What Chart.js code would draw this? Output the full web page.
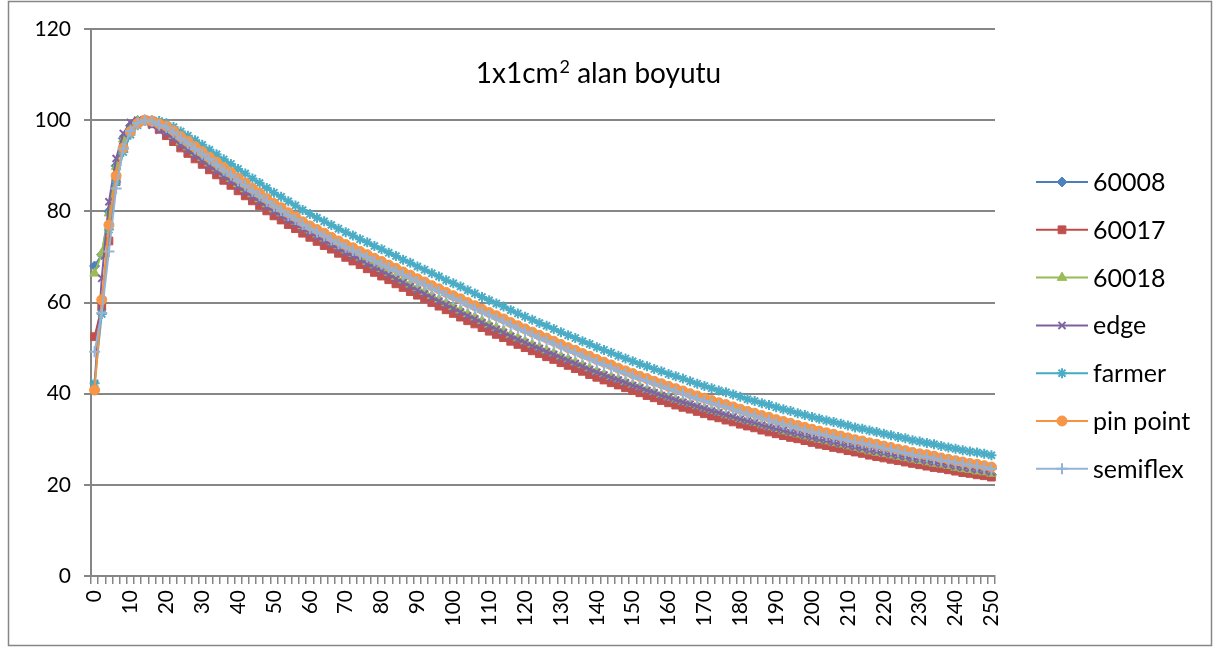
<!DOCTYPE html>
<html>
<head>
<meta charset="utf-8">
<script src="https://cdn.jsdelivr.net/npm/chart.js@4/dist/chart.umd.min.js"></script>
<style>
  html, body { margin: 0; padding: 0; background: #fff; }
  #wrap { width: 1220px; height: 653px; }
</style>
</head>
<body>
<div id="wrap"><canvas id="c" width="1220" height="653"></canvas></div>
<script>
// Depth (mm), one category every 2 mm
const depths = [
  0,2,4,6,8,10,12,14,16,18,20,22,24,26,28,30,32,34,36,38,
  40,42,44,46,48,50,52,54,56,58,60,62,64,66,68,70,72,74,76,78,
  80,82,84,86,88,90,92,94,96,98,100,102,104,106,108,110,112,114,116,118,
  120,122,124,126,128,130,132,134,136,138,140,142,144,146,148,150,152,154,156,158,
  160,162,164,166,168,170,172,174,176,178,180,182,184,186,188,190,192,194,196,198,
  200,202,204,206,208,210,212,214,216,218,220,222,224,226,228,230,232,234,236,238,
  240,242,244,246,248,250
];
// Depths that carry a visible label
const labelledDepths = [0,10,20,30,40,50,60,70,80,90,100,110,120,130,140,150,160,170,180,190,200,210,220,230,240,250];
const yTicks = [0, 20, 40, 60, 80, 100, 120];

const seriesNames = ['60008', '60017', '60018', 'edge', 'farmer', 'pin point', 'semiflex'];

const pdd60008 = [
  68.0, 70.5, 80.0, 90.0, 96.0, 98.8, 99.9, 100.0, 99.4, 98.4,
  97.4, 96.1, 94.7, 93.6, 92.4, 91.2, 90.0, 88.9, 87.7, 86.6,
  85.4, 84.3, 83.2, 82.1, 81.0, 80.0, 79.1, 78.1, 77.2, 76.2,
  75.3, 74.4, 73.5, 72.7, 71.8, 70.9, 70.1, 69.3, 68.4, 67.6,
  66.8, 66.0, 65.1, 64.3, 63.4, 62.6, 61.8, 60.9, 60.1, 59.3,
  58.5, 57.7, 56.9, 56.2, 55.4, 54.6, 53.9, 53.2, 52.4, 51.7,
  51.0, 50.3, 49.7, 49.0, 48.4, 47.7, 47.1, 46.4, 45.7, 45.0,
  44.4, 43.8, 43.2, 42.7, 42.1, 41.5, 41.0, 40.4, 39.9, 39.3,
  38.8, 38.3, 37.8, 37.4, 36.9, 36.3, 35.8, 35.4, 34.9, 34.5,
  34.0, 33.6, 33.2, 32.7, 32.3, 31.9, 31.5, 31.1, 30.8, 30.4,
  30.0, 29.5, 29.2, 28.8, 28.5, 28.1, 27.8, 27.5, 27.1, 26.8,
  26.5, 26.2, 25.9, 25.6, 25.3, 25.0, 24.7, 24.4, 24.1, 23.8,
  23.5, 23.2, 23.0, 22.7, 22.5, 22.2
];
const pdd60017 = [
  52.5, 59.0, 73.5, 86.5, 94.0, 97.8, 99.6, 100.0, 99.2, 98.0,
  96.6, 95.3, 93.9, 92.7, 91.5, 90.3, 89.1, 88.0, 86.8, 85.7,
  84.5, 83.4, 82.3, 81.2, 80.1, 79.0, 78.1, 77.1, 76.2, 75.2,
  74.3, 73.4, 72.5, 71.7, 70.8, 69.9, 69.1, 68.3, 67.4, 66.6,
  65.8, 65.0, 64.1, 63.3, 62.4, 61.6, 60.8, 60.0, 59.2, 58.4,
  57.6, 56.8, 56.0, 55.3, 54.5, 53.7, 53.0, 52.3, 51.5, 50.8,
  50.1, 49.4, 48.8, 48.1, 47.5, 46.8, 46.2, 45.5, 44.9, 44.2,
  43.6, 43.0, 42.4, 41.9, 41.3, 40.7, 40.2, 39.6, 39.1, 38.5,
  38.0, 37.5, 37.0, 36.6, 36.1, 35.6, 35.1, 34.7, 34.2, 33.8,
  33.3, 32.9, 32.5, 32.0, 31.6, 31.2, 30.8, 30.4, 30.1, 29.7,
  29.3, 28.9, 28.6, 28.2, 27.9, 27.5, 27.2, 26.9, 26.5, 26.2,
  25.9, 25.6, 25.3, 25.0, 24.7, 24.4, 24.1, 23.8, 23.6, 23.3,
  23.0, 22.7, 22.5, 22.2, 22.0, 21.7
];
const pdd60018 = [
  66.4, 70.8, 79.6, 89.8, 95.8, 98.6, 99.8, 100.0, 99.5, 98.8,
  97.8, 96.6, 95.2, 94.1, 92.9, 91.8, 90.6, 89.5, 88.3, 87.2,
  86.0, 84.9, 83.8, 82.7, 81.6, 80.5, 79.6, 78.7, 77.8, 76.8,
  75.9, 75.0, 74.1, 73.3, 72.4, 71.5, 70.7, 69.9, 69.0, 68.2,
  67.4, 66.6, 65.7, 64.9, 64.0, 63.2, 62.4, 61.5, 60.7, 59.9,
  59.1, 58.3, 57.5, 56.8, 56.0, 55.2, 54.5, 53.8, 52.9, 52.2,
  51.5, 50.8, 50.2, 49.5, 48.9, 48.2, 47.6, 46.9, 46.3, 45.6,
  44.9, 44.3, 43.7, 43.2, 42.6, 42.0, 41.5, 40.9, 40.4, 39.8,
  39.2, 38.7, 38.2, 37.8, 37.3, 36.8, 36.3, 35.9, 35.3, 34.9,
  34.4, 34.0, 33.6, 33.1, 32.7, 32.3, 31.8, 31.4, 31.1, 30.7,
  30.3, 29.9, 29.6, 29.2, 28.9, 28.5, 28.2, 27.8, 27.4, 27.1,
  26.8, 26.5, 26.2, 25.9, 25.6, 25.3, 25.0, 24.7, 24.5, 24.2,
  23.8, 23.5, 23.3, 23.0, 22.8, 22.5
];
const pddEdge = [
  42.0, 65.3, 82.1, 91.6, 97.1, 99.5, 100.0, 99.7, 98.9, 97.8,
  97.1, 95.9, 94.5, 93.4, 92.2, 91.1, 89.9, 88.8, 87.6, 86.6,
  85.4, 84.3, 83.2, 82.1, 81.0, 79.9, 79.0, 78.0, 77.2, 76.2,
  75.3, 74.4, 73.5, 72.7, 71.8, 70.9, 70.2, 69.4, 68.5, 67.7,
  66.9, 66.1, 65.2, 64.4, 63.5, 62.7, 61.9, 61.1, 60.3, 59.5,
  58.7, 57.9, 57.1, 56.4, 55.6, 54.8, 54.1, 53.4, 52.6, 51.9,
  51.2, 50.5, 49.9, 49.2, 48.6, 47.9, 47.3, 46.6, 46.0, 45.3,
  44.7, 44.1, 43.5, 43.0, 42.4, 41.8, 41.3, 40.7, 40.2, 39.6,
  39.1, 38.6, 38.1, 37.7, 37.2, 36.7, 36.2, 35.8, 35.3, 34.9,
  34.4, 34.0, 33.6, 33.1, 32.7, 32.3, 31.9, 31.5, 31.2, 30.8,
  30.4, 30.0, 29.7, 29.3, 29.0, 28.6, 28.3, 28.0, 27.6, 27.3,
  27.0, 26.7, 26.4, 26.1, 25.8, 25.5, 25.2, 24.9, 24.7, 24.4,
  24.1, 23.8, 23.6, 23.3, 23.1, 22.8
];
const pddFarmer = [
  42.3, 57.5, 76.0, 86.5, 93.0, 96.8, 98.9, 99.8, 100.0, 99.8,
  99.3, 98.5, 97.5, 96.6, 95.6, 94.6, 93.5, 92.5, 91.4, 90.4,
  89.3, 88.3, 87.2, 86.2, 85.1, 84.1, 83.2, 82.2, 81.3, 80.3,
  79.4, 78.6, 77.8, 77.0, 76.2, 75.4, 74.7, 73.9, 73.2, 72.4,
  71.7, 70.9, 70.2, 69.4, 68.7, 67.9, 67.2, 66.4, 65.7, 64.9,
  64.2, 63.5, 62.7, 62.0, 61.2, 60.5, 59.8, 59.1, 58.3, 57.6,
  56.9, 56.2, 55.5, 54.9, 54.2, 53.5, 52.8, 52.2, 51.5, 50.9,
  50.2, 49.6, 49.0, 48.3, 47.7, 47.1, 46.5, 46.0, 45.4, 44.9,
  44.3, 43.8, 43.3, 42.7, 42.2, 41.7, 41.2, 40.7, 40.3, 39.8,
  39.3, 38.8, 38.4, 37.9, 37.5, 37.0, 36.6, 36.2, 35.7, 35.3,
  34.9, 34.5, 34.1, 33.8, 33.4, 33.0, 32.6, 32.3, 31.9, 31.6,
  31.2, 30.9, 30.5, 30.2, 29.8, 29.5, 29.2, 28.9, 28.5, 28.2,
  27.9, 27.6, 27.3, 27.1, 26.8, 26.5
];
const pddPinPoint = [
  40.8, 60.6, 77.0, 87.8, 93.9, 97.5, 99.3, 100.0, 99.8, 99.2,
  98.7, 97.7, 96.4, 95.4, 94.2, 93.1, 91.9, 90.8, 89.6, 88.5,
  87.3, 86.2, 85.0, 84.0, 82.8, 81.7, 80.8, 79.7, 78.8, 77.7,
  76.8, 76.0, 75.2, 74.3, 73.5, 72.7, 72.0, 71.2, 70.5, 69.7,
  69.0, 68.2, 67.5, 66.7, 66.0, 65.2, 64.5, 63.7, 63.0, 62.2,
  61.5, 60.8, 60.0, 59.3, 58.5, 57.8, 57.1, 56.4, 55.6, 54.9,
  54.2, 53.5, 52.8, 52.2, 51.5, 50.8, 50.1, 49.5, 48.8, 48.2,
  47.5, 46.9, 46.3, 45.6, 45.0, 44.4, 43.8, 43.3, 42.7, 42.2,
  41.6, 41.1, 40.6, 40.0, 39.5, 39.0, 38.5, 38.0, 37.6, 37.1,
  36.6, 36.1, 35.7, 35.2, 34.8, 34.3, 33.9, 33.5, 33.0, 32.6,
  32.2, 31.8, 31.4, 31.1, 30.7, 30.3, 29.9, 29.6, 29.2, 28.9,
  28.5, 28.2, 27.8, 27.5, 27.1, 26.8, 26.6, 26.3, 25.9, 25.6,
  25.3, 25.0, 24.7, 24.5, 24.2, 23.9
];
const pddSemiflex = [
  49.2, 57.7, 71.2, 85.0, 93.8, 97.6, 99.4, 100.0, 99.7, 98.9,
  98.4, 97.3, 96.0, 94.9, 93.7, 92.6, 91.4, 90.2, 89.0, 87.9,
  86.7, 85.6, 84.4, 83.4, 82.2, 81.1, 80.2, 79.1, 78.2, 77.1,
  76.2, 75.4, 74.6, 73.7, 72.9, 72.1, 71.4, 70.6, 69.9, 69.1,
  68.4, 67.6, 66.9, 66.1, 65.4, 64.6, 63.9, 63.1, 62.4, 61.6,
  60.9, 60.2, 59.4, 58.7, 57.9, 57.2, 56.5, 55.8, 55.0, 54.3,
  53.6, 52.9, 52.2, 51.6, 50.9, 50.2, 49.5, 48.9, 48.2, 47.6,
  46.9, 46.3, 45.7, 45.0, 44.4, 43.8, 43.2, 42.7, 42.1, 41.6,
  41.0, 40.5, 40.0, 39.4, 38.9, 38.4, 37.9, 37.4, 37.0, 36.5,
  36.0, 35.5, 35.1, 34.6, 34.2, 33.7, 33.3, 32.9, 32.4, 32.0,
  31.6, 31.2, 30.8, 30.5, 30.1, 29.7, 29.4, 29.1, 28.7, 28.4,
  28.0, 27.7, 27.3, 27.0, 26.6, 26.3, 26.1, 25.8, 25.4, 25.2,
  24.9, 24.6, 24.3, 24.1, 23.8, 23.5
];

const seriesValues = [pdd60008, pdd60017, pdd60018, pddEdge, pddFarmer, pddPinPoint, pddSemiflex];

// Line colour, marker colour, marker shape and size for each detector
const styles = [
  { line: '#4A7EBB', mark: '#4F81BD', shape: 'rectRot',  r: 5,   bw: 1 },
  { line: '#BE4B48', mark: '#C0504D', shape: 'rect',     r: 5.5, bw: 1 },
  { line: '#98B954', mark: '#9BBB59', shape: 'triangle', r: 5.5, bw: 1 },
  { line: '#7D60A0', mark: '#8064A2', shape: 'crossRot', r: 5,   bw: 2 },
  { line: '#46AAC5', mark: '#4BACC6', shape: 'star',     r: 5,   bw: 2 },
  { line: '#F69240', mark: '#F79646', shape: 'circle',   r: 5,   bw: 1 },
  { line: '#95B3D7', mark: '#95B3D7', shape: 'cross',    r: 5.5, bw: 2 }
];

const FONT = 'Lato, "Open Sans", sans-serif';
const GRID = '#868686';

const datasets = seriesNames.map((name, i) => ({
  label: name,
  data: seriesValues[i],
  borderColor: styles[i].line,
  backgroundColor: styles[i].mark,
  borderWidth: 2,
  pointStyle: styles[i].shape,
  pointRadius: styles[i].r,
  pointBorderWidth: styles[i].bw,
  pointBackgroundColor: styles[i].mark,
  pointBorderColor: styles[i].mark,
  tension: 0,
  order: seriesNames.length - 1 - i
}));

// White page with a thin frame round the whole chart
const framePlugin = {
  id: 'frame',
  beforeDraw(chart) {
    const ctx = chart.ctx;
    ctx.save();
    ctx.fillStyle = '#ffffff';
    ctx.fillRect(0, 0, chart.width, chart.height);
    ctx.strokeStyle = GRID;
    ctx.lineWidth = 1.5;
    ctx.strokeRect(8.5, 1.5, 1203, 644);
    ctx.restore();
  }
};

// Caption inside the plot area, with a raised "2" for cm²
const captionPlugin = {
  id: 'caption',
  afterDraw(chart) {
    const ctx = chart.ctx;
    const big = '28px ' + FONT, small = '18px ' + FONT;
    const a = '1x1cm', sup = '2', b = ' alan boyutu';
    ctx.save();
    ctx.fillStyle = '#000';
    ctx.textBaseline = 'alphabetic';
    ctx.textAlign = 'left';
    ctx.font = big;
    const wa = ctx.measureText(a).width, wb = ctx.measureText(b).width;
    ctx.font = small;
    const ws = ctx.measureText(sup).width;
    let x = 598 - (wa + ws + wb) / 2;
    const base = 83;
    ctx.font = big;   ctx.fillText(a, x, base);  x += wa;
    ctx.font = small; ctx.fillText(sup, x + 1, base - 10); x += ws + 1;
    ctx.font = big;   ctx.fillText(b, x, base);
    ctx.restore();
  }
};

// Legend on the right: line sample with its marker, then the name
const legendPlugin = {
  id: 'sideLegend',
  afterDraw(chart) {
    const ctx = chart.ctx;
    const x0 = 1036, x1 = 1088, tx = 1093, y0 = 182, step = 47.8;
    ctx.save();
    chart.data.datasets.forEach((ds, i) => {
      const y = y0 + i * step;
      ctx.strokeStyle = ds.borderColor;
      ctx.lineWidth = 2;
      ctx.beginPath();
      ctx.moveTo(x0, y);
      ctx.lineTo(x1, y);
      ctx.stroke();
      ctx.fillStyle = ds.pointBackgroundColor;
      ctx.strokeStyle = ds.pointBorderColor;
      ctx.lineWidth = ds.pointBorderWidth;
      Chart.helpers.drawPoint(ctx, {
        pointStyle: ds.pointStyle, rotation: 0,
        radius: ds.pointRadius, borderWidth: ds.pointBorderWidth
      }, (x0 + x1) / 2, y);
      ctx.fillStyle = '#000';
      ctx.font = '25px ' + FONT;
      ctx.textAlign = 'left';
      ctx.textBaseline = 'middle';
      ctx.fillText(ds.label, tx, y + 1);
    });
    ctx.restore();
  }
};

new Chart(document.getElementById('c'), {
  type: 'line',
  data: { labels: depths, datasets },
  options: {
    responsive: false,
    animation: false,
    devicePixelRatio: 1,
    layout: { padding: { left: 0, right: 225, top: 29, bottom: 0 } },
    plugins: { legend: { display: false }, tooltip: { enabled: false }, title: { display: false } },
    scales: {
      x: {
        type: 'category',
        offset: true,
        afterFit(s) { s.height = 77; },
        grid: { display: true, offset: true, drawOnChartArea: false, drawTicks: true, tickLength: 8, color: GRID, lineWidth: 1.5 },
        border: { display: true, color: GRID, width: 2 },
        ticks: {
          autoSkip: false, maxRotation: 90, minRotation: 90, padding: 6,
          color: '#000', font: { family: FONT, size: 21 },
          callback(v, i) { return labelledDepths.includes(depths[i]) ? String(depths[i]) : ''; }
        }
      },
      y: {
        min: 0, max: 120,
        afterFit(s) { s.width = 91; },
        afterBuildTicks(s) { s.ticks = yTicks.map(v => ({ value: v })); },
        grid: { color: GRID, lineWidth: 2, drawTicks: true, tickLength: 7 },
        border: { display: true, color: GRID, width: 2 },
        ticks: { padding: 13, color: '#000', font: { family: FONT, size: 21 } }
      }
    }
  },
  plugins: [framePlugin, captionPlugin, legendPlugin]
});
</script>
</body>
</html>
